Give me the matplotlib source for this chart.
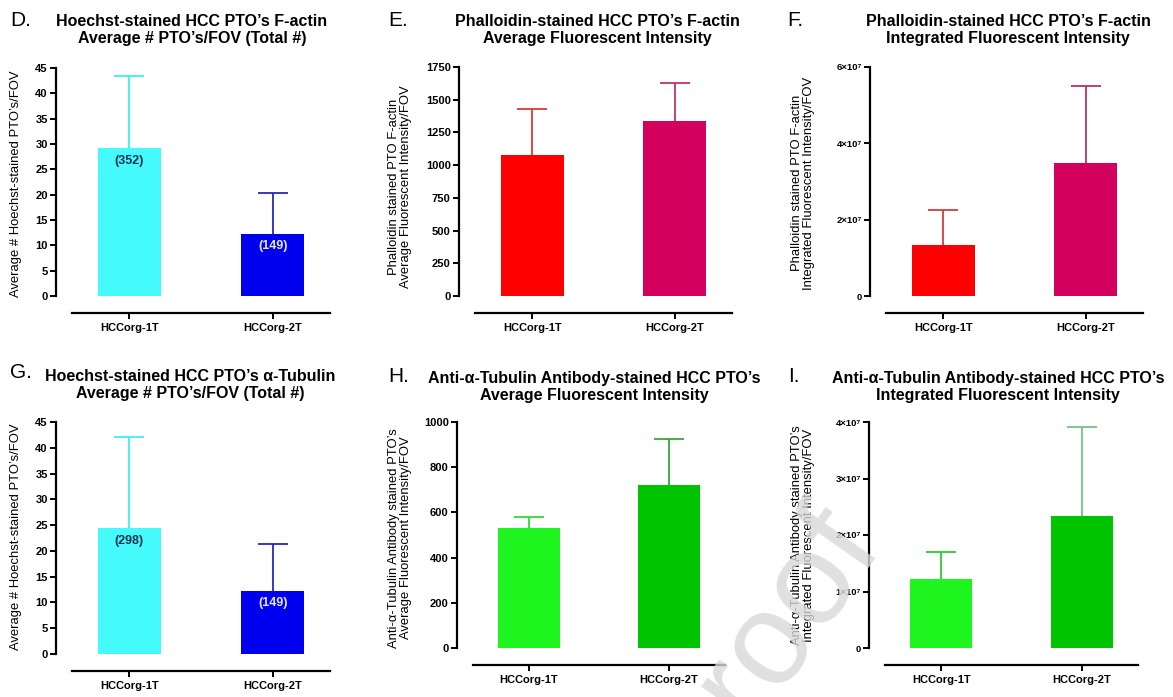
import numpy as np
import matplotlib
matplotlib.use('Agg')
import matplotlib.pyplot as plt

plt.rcParams['font.family'] = ['Liberation Sans', 'DejaVu Sans']
plt.rcParams['font.weight'] = 'bold'  # prism-style bold tick labels

groups = ['HCCorg-1T', 'HCCorg-2T']

# Hoechst counts (F-actin set / alpha-tubulin set)
hoechst_actin_mean = [29.2, 12.3]
hoechst_actin_sd = [14.2, 8.1]
hoechst_actin_total = ['(352)', '(149)']
hoechst_tub_mean = [24.4, 12.3]
hoechst_tub_sd = [17.7, 9.0]
hoechst_tub_total = ['(298)', '(149)']

# phalloidin F-actin
phal_avg_mean = [1074, 1339]
phal_avg_sd = [355, 291]
phal_int_mean = [1.34e7, 3.49e7]
phal_int_sd = [0.91e7, 2.01e7]

# anti alpha-tubulin
tub_avg_mean = [530, 723]
tub_avg_sd = [49, 202]
tub_int_mean = [1.22e7, 2.34e7]
tub_int_sd = [0.48e7, 1.58e7]

W, H = 1173, 697
fig = plt.figure(figsize=(W / 100, H / 100), dpi=100)


def sci_label(v):
    if v == 0:
        return '0'
    return '%d×10⁷' % round(v / 1e7)


def panel(box, means, sds, colors, ecolors, ymax, ystep, ylabel, ylab_xy,
          title, title_xy, letter, letter_xy, notes=None, note_colors=None, sci=False):
    """box = (left, right, top, bottom) in pixels"""
    l, r, t, b = box
    ax = fig.add_axes([l / W, 1 - b / H, (r - l) / W, (b - t) / H])
    x = np.arange(len(groups))
    ax.bar(x, means, width=0.44, color=colors, zorder=2)
    for xi, m, s, ec in zip(x, means, sds, ecolors):
        eb = ax.errorbar(xi, m, yerr=[[0], [s]], color=ec, capsize=11,
                         elinewidth=1.3, capthick=1.3, zorder=1)
        eb[1][0].set_visible(False)  # only the upper cap
    ax.set_xlim(-0.4, 1.4)
    ax.set_ylim(0, ymax)
    ax.tick_params(axis='y', length=4, width=1.4, labelsize=6.8 if sci else 8, pad=2)
    ax.tick_params(axis='x', length=4, width=1.4, labelsize=8, pad=3)
    yt = np.arange(0, ymax + ystep / 2, ystep)
    if sci:
        ylabs = [sci_label(v) for v in yt]
    else:
        ylabs = ['%d' % v for v in yt]
    ax.set_yticks(yt, ylabs)
    ax.set_xticks(x, groups)
    for s in ['top', 'right']:
        ax.spines[s].set_visible(False)
    ax.spines['left'].set_position(('outward', 11.5))
    ax.spines['bottom'].set_position(('outward', 12.2))
    ax.spines['left'].set_linewidth(1.6)
    ax.spines['bottom'].set_linewidth(1.6)

    if notes:
        for xi, m, n, c in zip(x, means, notes, note_colors):
            ax.annotate(n, (xi, m), xytext=(0, -9), textcoords='offset points',
                        ha='center', va='center', fontsize=9, fontweight='bold', color=c)

    fig.text(ylab_xy[0] / W, 1 - ylab_xy[1] / H, ylabel, rotation=90, ha='center',
             va='center', fontsize=9.4, fontweight='normal', linespacing=1.05)
    fig.text(title_xy[0] / W, 1 - title_xy[1] / H, title, ha='center', va='center',
             fontsize=11.5, fontweight='bold', linespacing=1.15)
    fig.text(letter_xy[0] / W, 1 - letter_xy[1] / H, letter, ha='left', va='center',
             fontsize=15, fontweight='normal')
    return ax


cyan, blue = '#44FAFA', '#0000EE'
red, crimson = '#FF0000', '#D4005E'
lgreen, dgreen = '#1EF51E', '#00C400'

panel((72, 330, 68, 296), hoechst_actin_mean, hoechst_actin_sd, [cyan, blue],
      ['#3CF0F0', '#2828C0'], 45, 5, 'Average # Hoechst-stained PTO’s/FOV', (16, 184),
      'Hoechst-stained HCC PTO’s F-actin\nAverage # PTO’s/FOV (Total #)', (192, 30),
      'D.', (10, 20), hoechst_actin_total, ['#16324F', '#E4E8FF'])

panel((475, 732, 67, 296), phal_avg_mean, phal_avg_sd, [red, crimson],
      ['#D83C3C', '#C03468'], 1750, 250,
      'Phalloidin stained PTO F-actin\nAverage Fluorescent Intensity/FOV', (400, 187),
      'Phalloidin-stained HCC PTO’s F-actin\nAverage Fluorescent Intensity', (597, 30),
      'E.', (388, 20))

panel((886, 1143, 67, 296), phal_int_mean, phal_int_sd, [red, crimson],
      ['#D83C3C', '#B83460'], 6e7, 2e7,
      'Phalloidin stained PTO F-actin\nIntegrated Fluorescent Intensity/FOV', (803, 183),
      'Phalloidin-stained HCC PTO’s F-actin\nIntegrated Fluorescent Intensity', (1008, 30),
      'F.', (787, 20), sci=True)

panel((72, 330, 422, 654), hoechst_tub_mean, hoechst_tub_sd, [cyan, blue],
      ['#3CF0F0', '#2828C0'], 45, 5, 'Average # Hoechst-stained PTO’s/FOV', (16, 537),
      'Hoechst-stained HCC PTO’s α-Tubulin\nAverage # PTO’s/FOV (Total #)', (190, 385),
      'G.', (10, 373), hoechst_tub_total, ['#16324F', '#E4E8FF'])

panel((473, 725, 422, 648), tub_avg_mean, tub_avg_sd, [lgreen, dgreen],
      ['#30DC30', '#38A838'], 1000, 200,
      'Anti-α-Tubulin Antibody stained PTO’s\nAverage Fluorescent Intensity/FOV', (400, 538),
      'Anti-α-Tubulin Antibody-stained HCC PTO’s\nAverage Fluorescent Intensity', (594, 387),
      'H.', (388, 377))

panel((885, 1138, 422, 648), tub_int_mean, tub_int_sd, [lgreen, dgreen],
      ['#30C830', '#74C488'], 4e7, 1e7,
      'Anti-α-Tubulin Antibody stained PTO’s\nIntegrated Fluorescent Intensity/FOV', (803, 535),
      'Anti-α-Tubulin Antibody-stained HCC PTO’s\nIntegrated Fluorescent Intensity', (998, 387),
      'I.', (788, 377), sci=True)

# journal proof watermark
fig.text(672 / W, 1 - 715 / H, 'roof', rotation=55, fontsize=95, color='#d8d8d8',
         ha='left', va='baseline', fontweight='normal', alpha=0.8, zorder=10)

fig.savefig('out.png', dpi=100)
